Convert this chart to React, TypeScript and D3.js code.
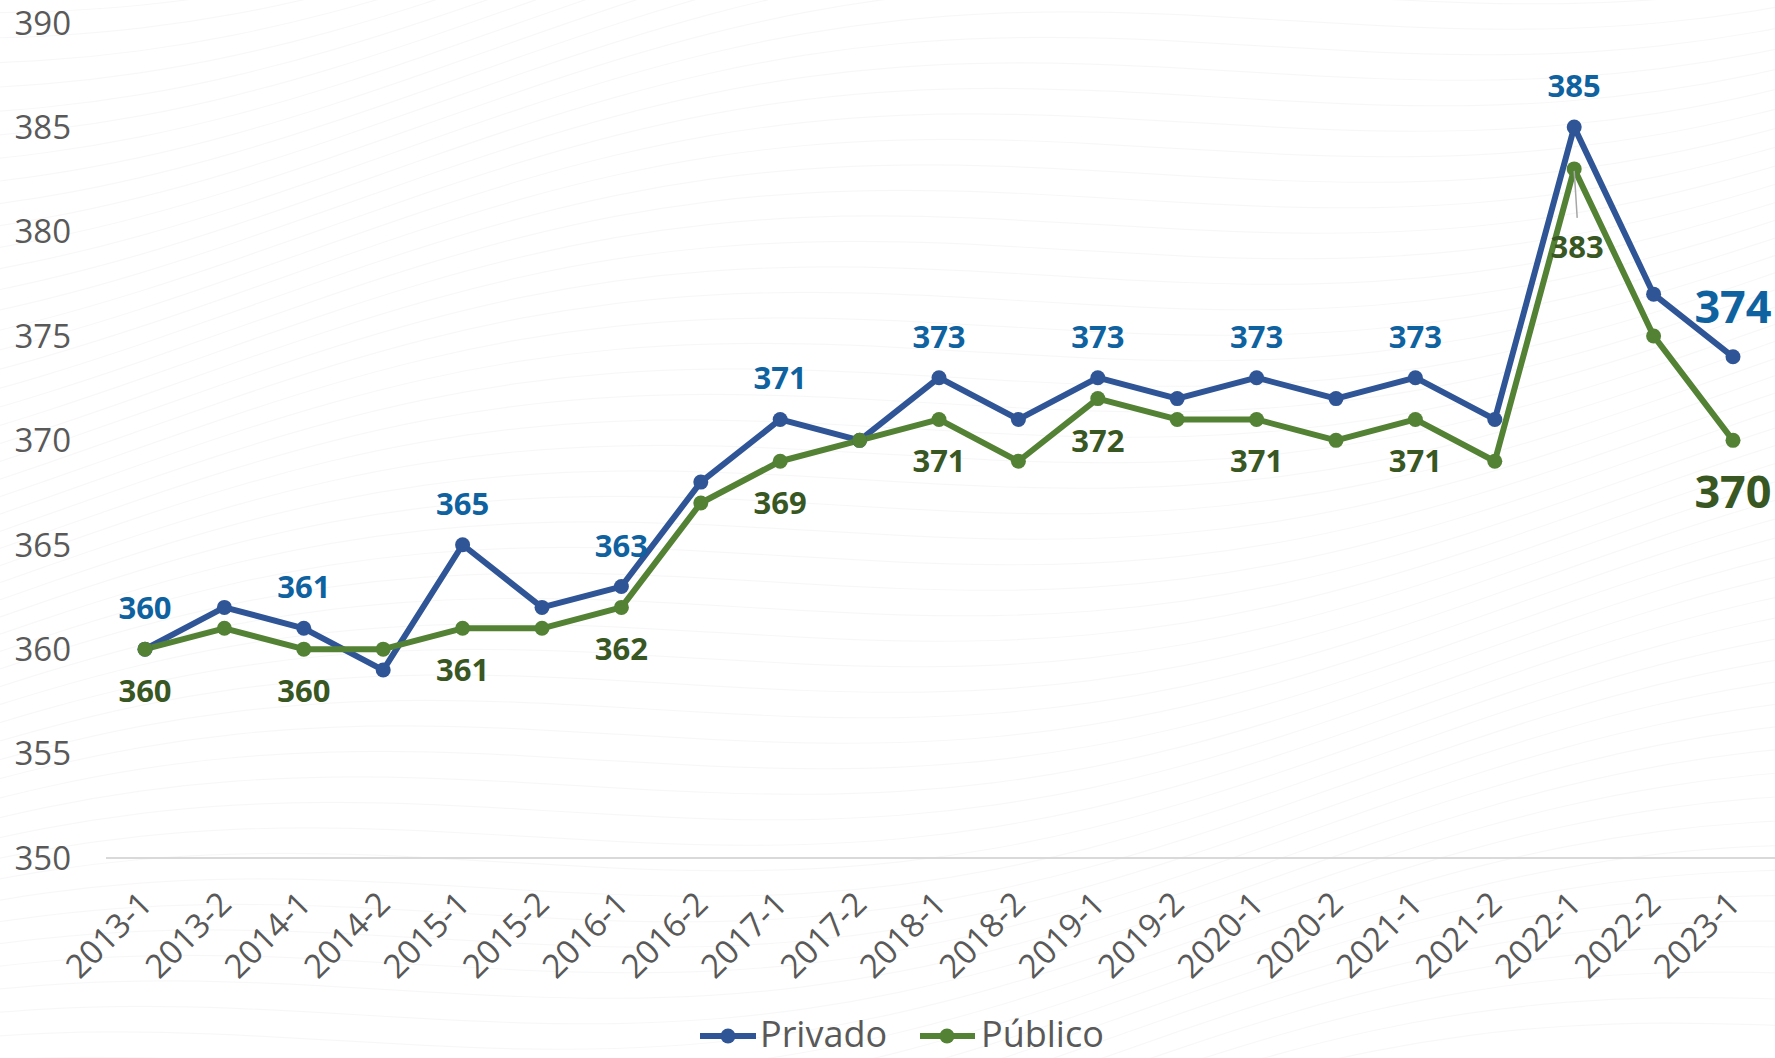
import React from "react";
import * as d3 from "d3";

const categories = ["2013-1","2013-2","2014-1","2014-2","2015-1","2015-2","2016-1","2016-2","2017-1","2017-2","2018-1","2018-2","2019-1","2019-2","2020-1","2020-2","2021-1","2021-2","2022-1","2022-2","2023-1"];
const privado = [360,362,361,359,365,362,363,368,371,370,373,371,373,372,373,372,373,371,385,377,374];
const publico = [360,361,360,360,361,361,362,367,369,370,371,369,372,371,371,370,371,369,383,375,370];
const yTicks = [350,355,360,365,370,375,380,385,390];
const seriesNames = ["Privado","Público"];

const W = 1775, H = 1058;
const FONT = "'Open Sans', 'Noto Sans', sans-serif";
const BLUE = "#2F5597", GREEN = "#548235";
const BLUE_LBL = "#0f62a0", GREEN_LBL = "#385723";
const AXIS_TXT = "#595959";

export default function App() {
  const x = d3.scalePoint<string>().domain(categories).range([145, 1733]);
  const y = d3.scaleLinear().domain([350, 390]).range([858, 22.7]);
  const line = d3.line<number>().x((_, i) => x(categories[i])!).y(d => y(d));

  // decorative faint background waves
  const waves: string[] = [];
  const wl = d3.line<[number, number]>().curve(d3.curveBasis);
  for (let k = 0; k < 70; k++) {
    const pts: [number, number][] = [];
    for (let t = 0; t <= 20; t++) {
      const px = -50 + t * 95;
      const py = -200 + k * 22 - t * 14 + 60 * Math.sin(t / 3 + k / 12);
      pts.push([px, py]);
    }
    waves.push(wl(pts)!);
  }

  const last = categories.length - 1;
  const lx = (i: number) => x(categories[i])!;

  return (
    <svg width={W} height={H} style={{ position: "absolute", left: 0, top: 0, background: "#fff" }} fontFamily={FONT}>
      <rect width={W} height={H} fill="#ffffff" />
      <g fill="none" stroke="#000" strokeOpacity={0.03} strokeWidth={1.2}>
        {waves.map((d, i) => <path key={i} d={d} />)}
      </g>

      {/* baseline gridline */}
      <line x1={106} x2={W} y1={y(350)} y2={y(350)} stroke="#d9d9d9" strokeWidth={2} />

      {/* y tick labels */}
      {yTicks.map(t => (
        <text key={t} x={71} y={y(t)} dy="0.36em" textAnchor="end" fontSize={33} fill={AXIS_TXT}>{t}</text>
      ))}

      {/* x tick labels */}
      {categories.map(c => (
        <text key={c} transform={`translate(${x(c)! + 9},${906}) rotate(-45)`} textAnchor="end" fontSize={33} fill={AXIS_TXT}>{c}</text>
      ))}

      {/* lines */}
      <path d={line(privado)!} fill="none" stroke={BLUE} strokeWidth={6} strokeLinejoin="round" />
      <path d={line(publico)!} fill="none" stroke={GREEN} strokeWidth={6} strokeLinejoin="round" />
      {privado.map((v, i) => <circle key={"p" + i} cx={lx(i)} cy={y(v)} r={7.5} fill={BLUE} />)}
      {publico.map((v, i) => <circle key={"g" + i} cx={lx(i)} cy={y(v)} r={7.5} fill={GREEN} />)}

      {/* data labels privado */}
      {privado.map((v, i) => (i % 2 === 0 && i !== last) ? (
        <text key={"lp" + i} x={lx(i)} y={y(v) - 30} textAnchor="middle" fontSize={31} fontWeight={700} fill={BLUE_LBL}>{v}</text>
      ) : null)}
      <text x={lx(last)} y={y(privado[last]) - 34} textAnchor="middle" fontSize={45} fontWeight={700} fill={BLUE_LBL}>{privado[last]}</text>

      {/* data labels publico */}
      {publico.map((v, i) => (i % 2 === 0 && i !== last && i !== 18) ? (
        <text key={"lg" + i} x={lx(i)} y={y(v) + 53} textAnchor="middle" fontSize={31} fontWeight={700} fill={GREEN_LBL}>{v}</text>
      ) : null)}
      <line x1={lx(18)} y1={y(publico[18]) + 2} x2={lx(18) + 3} y2={y(publico[18]) + 49} stroke="#a6a6a6" strokeWidth={1.5} />
      <text x={lx(18) + 3} y={y(publico[18]) + 89} textAnchor="middle" fontSize={31} fontWeight={700} fill={GREEN_LBL}>{publico[18]}</text>
      <text x={lx(last)} y={y(publico[last]) + 68} textAnchor="middle" fontSize={45} fontWeight={700} fill={GREEN_LBL}>{publico[last]}</text>

      {/* legend */}
      <g>
        <line x1={700} x2={756} y1={1036} y2={1036} stroke={BLUE} strokeWidth={6} />
        <circle cx={728} cy={1036} r={7.5} fill={BLUE} />
        <text x={760} y={1047} fontSize={36} fill={AXIS_TXT}>{seriesNames[0]}</text>
        <line x1={920} x2={975} y1={1036} y2={1036} stroke={GREEN} strokeWidth={6} />
        <circle cx={947} cy={1036} r={7.5} fill={GREEN} />
        <text x={981} y={1047} fontSize={36} fill={AXIS_TXT}>{seriesNames[1]}</text>
      </g>
    </svg>
  );
}
